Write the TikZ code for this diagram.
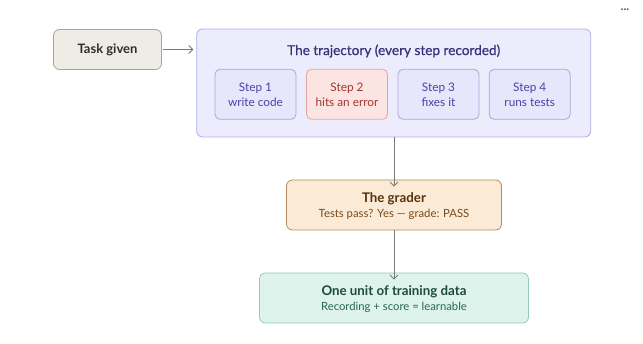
\documentclass[tikz,border=0pt]{standalone}
\usepackage{fontspec}
\setmainfont{Lato}
\newfontfamily\medfont[FakeBold=0.6]{Lato}
\usetikzlibrary{arrows.meta}
\definecolor{taskfill}{HTML}{EFECE5}
\definecolor{taskdraw}{HTML}{A8A59D}
\definecolor{tasktext}{HTML}{2E2D2A}
\definecolor{trajfill}{HTML}{EDECFC}
\definecolor{trajdraw}{HTML}{B2AEE6}
\definecolor{trajtext}{HTML}{36337A}
\definecolor{stepfill}{HTML}{E8E6FB}
\definecolor{stepdraw}{HTML}{A9A5DC}
\definecolor{steptext}{HTML}{4843A6}
\definecolor{errfill}{HTML}{FBE4E2}
\definecolor{errdraw}{HTML}{E2A6A1}
\definecolor{errtext}{HTML}{A5352E}
\definecolor{gradefill}{HTML}{FBEBD6}
\definecolor{gradedraw}{HTML}{B68B5C}
\definecolor{gradetitle}{HTML}{55330F}
\definecolor{gradetext}{HTML}{7A4918}
\definecolor{datafill}{HTML}{DDF3EB}
\definecolor{datadraw}{HTML}{96CBB6}
\definecolor{datatitle}{HTML}{1C4B3C}
\definecolor{datatext}{HTML}{286650}
\definecolor{arrowc}{HTML}{7A7A7A}
\tikzset{
  box/.style={rectangle, rounded corners=6pt, line width=0.8pt, inner sep=0pt, align=center},
  stepbox/.style={box, rounded corners=5pt, minimum width=81pt, minimum height=50pt, font=\fontsize{11.8}{15}\selectfont},
  conn/.style={draw=arrowc, line width=0.8pt, -{Straight Barb[length=4pt,width=8pt,line width=0.8pt]}},
}
\begin{document}
\begin{tikzpicture}[x=1pt,y=-1pt]
\useasboundingbox[fill=white] (0,0) rectangle (643,344);
\node[box, fill=taskfill, draw=taskdraw, text=tasktext, minimum width=108pt, minimum height=40pt, font=\fontsize{13}{16}\selectfont\bfseries] (task) at (107.5,49.5) {Task given};
\node[box, fill=trajfill, draw=trajdraw, minimum width=394pt, minimum height=108pt] (traj) at (393.7,83) {};
\node[text=trajtext, font=\fontsize{13.6}{16}\selectfont\medfont] (trajtitle) at (393.7,51) {The trajectory (every step recorded)};
\node[stepbox, fill=stepfill, draw=stepdraw, text=steptext] (s1) at (255.5,94.3) {Step 1\\write code};
\node[stepbox, fill=errfill, draw=errdraw, text=errtext] (s2) at (347,94.3) {Step 2\\hits an error};
\node[stepbox, fill=stepfill, draw=stepdraw, text=steptext] (s3) at (438.5,94.3) {Step 3\\fixes it};
\node[stepbox, fill=stepfill, draw=stepdraw, text=steptext] (s4) at (529.7,94.3) {Step 4\\runs tests};
\node[box, fill=gradefill, draw=gradedraw, minimum width=215pt, minimum height=50pt] (grader) at (394,205) {};
\node[text=gradetitle, font=\fontsize{13.3}{16}\selectfont\bfseries] (gt) at (394,198.5) {The grader};
\node[text=gradetext, font=\fontsize{11.3}{14}\selectfont] (gs) at (394,214.5) {Tests pass? Yes — grade: PASS};
\node[box, fill=datafill, draw=datadraw, minimum width=269pt, minimum height=50pt] (data) at (394,298) {};
\node[text=datatitle, font=\fontsize{13.3}{16}\selectfont\bfseries] (dt) at (394,291.5) {One unit of training data};
\node[text=datatext, font=\fontsize{11.3}{14}\selectfont] (ds) at (394,307.5) {Recording + score = learnable};
\node[text=arrowc!70!black, font=\fontsize{12}{12}\selectfont\bfseries, anchor=base, inner sep=0pt] (dots) at (625,11) {...};
\draw[conn] (task.east) ++(1.5pt,0) -- ([xshift=-3pt]traj.west |- task.east);
\draw[conn] (traj.south -| grader.north) -- ([yshift=-7pt]grader.north);
\draw[conn] (grader.south) -- ([yshift=-7pt]data.north);
\end{tikzpicture}
\end{document}
